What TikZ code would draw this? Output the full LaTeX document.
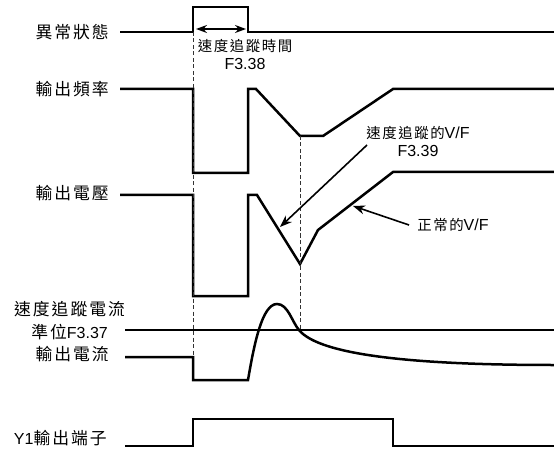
\documentclass[tikz,border=0pt]{standalone}
\usepackage{fontspec}
\setmainfont{Liberation Sans}
\newfontfamily\cjk{Noto Sans CJK TC}[Scale=1.05,LetterSpace=12]
\newfontfamily\cjks{Noto Sans CJK TC}[Scale=0.9,LetterSpace=11]
\usetikzlibrary{positioning,arrows.meta}

\begin{document}
\begin{tikzpicture}[x=1pt, y=-1pt, font=\fontsize{16}{18}\selectfont]
    % Define styles
    \tikzstyle{signal} = [line width=2.5pt, line join=miter]
    \tikzstyle{guide} = [line width=0.8pt, black!80, dash pattern=on 4pt off 2.5pt]
    \tikzstyle{pointer} = [line width=1.6pt, -{Stealth[length=12pt, width=9pt]}]
    \tikzstyle{signame} = [inner sep=0pt, anchor=east]
    \tikzstyle{note} = [inner sep=0pt]

    \useasboundingbox (0,0) rectangle (554,449);

    % Signal names
    \node[signame] (state) at (109,32) {\cjk 異常狀態};
    \node[signame] (freq) at (109,89) {\cjk 輸出頻率};
    \node[signame] (volt) at (109,193) {\cjk 輸出電壓};
    \node[signame] (lvl) at (108,332) {{\cjk 準位}F3.37};
    \node[note] (lvltxt) [above=7pt of lvl] {\cjk 速度追蹤電流};
    \node[signame] (curr) at (109,354) {\cjk 輸出電流};
    \node[signame] (yout) at (107,438) {Y1{\cjk 輸出端子}};

    % Notes
    \node[note] (tracktime) at (245,46) {\cjks 速度追蹤時間};
    \node[note] (f338) [below=5pt of tracktime] {F3.38};
    \node[note] (trackvf) at (418,133) {{\cjks 速度追蹤的}V/F};
    \node[note] (f339) [below=5pt of trackvf] {F3.39};
    \node[note] (normvf) at (453,225) {{\cjks 正常的}V/F};
    \coordinate (trackvfs) at (367,145);
    \coordinate (trackvft) at (280,227);
    \coordinate (normvfs) at (409,225);
    \coordinate (normvft) at (353,206);
    \coordinate (tl) at (196,29);
    \coordinate (tr) at (246,29);

    % Waveforms
    \draw[signal] (120,32) -- (193,32) -- (193,7) -- (248,7) -- (248,32) -- (554,32);
    \draw[signal] (120,89) -- (193,89) -- (193,173) -- (248,173) -- (248,89) -- (256,89)
        -- (300,136) -- (323,136) -- (393,89) -- (554,89);
    \draw[signal] (120,195) -- (193,195) -- (193,296) -- (248,296) -- (248,195) -- (257,195)
        -- (300,264) -- (318,230) -- (393,172) -- (554,172);
    \draw[signal] (125,330) -- (554,330);
    \draw[signal] (125,357) -- (193,357) -- (193,380) -- (248,380)
        .. controls (254,345) and (262,304) .. (277,304)
        .. controls (288,304) and (292,322) .. (299,330)
        .. controls (320,356) and (420,365) .. (554,365);
    \draw[signal] (125,446) -- (193,446) -- (193,419) -- (393,419) -- (393,446) -- (554,446);

    % Guides
    \draw[guide] (193,32) -- (193,357);
    \draw[guide] (300,136) -- (300,330);

    % Arrows
    \draw[line width=1.6pt, {Stealth[length=11pt, width=8pt]}-{Stealth[length=11pt, width=8pt]}] (tl) -- (tr);
    \draw[pointer] (trackvfs) -- (trackvft);
    \draw[pointer] (normvfs) -- (normvft);
\end{tikzpicture}
\end{document}
